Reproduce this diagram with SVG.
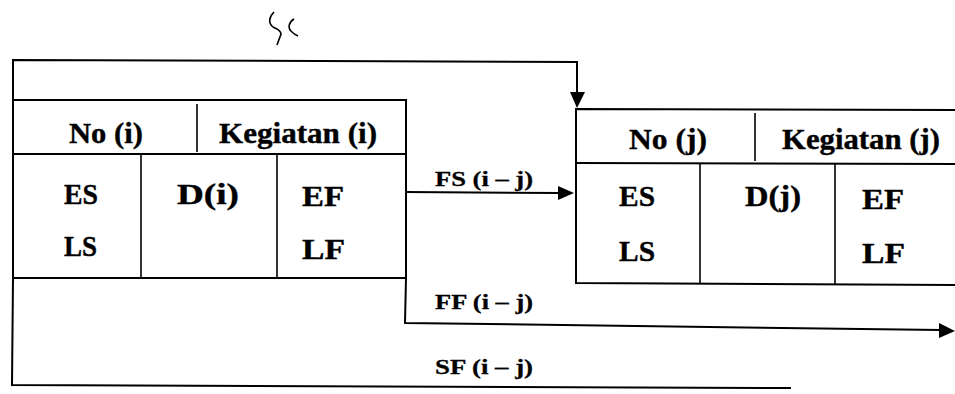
<svg xmlns="http://www.w3.org/2000/svg" width="955" height="394" viewBox="0 0 955 394">
  <defs>
    <style>
      .ln { stroke: #000; stroke-width: 2; fill: none; stroke-linecap: square; }
      .thin { stroke: #000; stroke-width: 1.6; fill: none; }
      .t { font-family: "Liberation Serif", "Times New Roman", serif; font-weight: bold; font-size: 30px; fill: #000; stroke: #000; stroke-width: 0.4; }
      .lbl { font-family: "Liberation Serif", "Times New Roman", serif; font-weight: bold; font-size: 21px; fill: #000; stroke: #000; stroke-width: 0.3; }
      .ah { fill: #000; stroke: none; }
    </style>
  </defs>
  <rect width="955" height="394" fill="#fff"/>

  <!-- handwritten mark -->
  <g id="mark">
    <path class="thin" d="M274 12 C269 17 268 23 273 27 C277 29 281 30 281 34 L277 45"/>
    <path class="thin" d="M294 19 C289 22 287 28 292 32 C294 34 296 35 298 36"/>
  </g>

  <!-- Node i -->
  <g id="node-i">
    <rect class="ln" x="13" y="100" width="393" height="178"/>
    <line class="ln" x1="13" y1="154" x2="406" y2="154"/>
    <line class="thin" x1="197" y1="104" x2="197" y2="152"/>
    <line class="thin" x1="141" y1="154" x2="141" y2="278"/>
    <line class="thin" x1="277" y1="154" x2="277" y2="278"/>
    <text class="t" x="69" y="143" textLength="74" lengthAdjust="spacingAndGlyphs">No (i)</text>
    <text class="t" x="219" y="143" textLength="158" lengthAdjust="spacingAndGlyphs">Kegiatan (i)</text>
    <text class="t" x="64" y="204" textLength="34" lengthAdjust="spacingAndGlyphs">ES</text>
    <text class="t" x="64" y="256" textLength="33" lengthAdjust="spacingAndGlyphs">LS</text>
    <text class="t" x="177" y="204" textLength="62" lengthAdjust="spacingAndGlyphs">D(i)</text>
    <text class="t" x="302" y="206" textLength="42" lengthAdjust="spacingAndGlyphs">EF</text>
    <text class="t" x="302" y="259" textLength="43" lengthAdjust="spacingAndGlyphs">LF</text>
  </g>

  <!-- Node j -->
  <g id="node-j">
    <polyline class="ln" points="960,110 576,109 576,283 960,285"/>
    <line class="ln" x1="576" y1="163" x2="960" y2="164"/>
    <line class="thin" x1="755" y1="113" x2="755" y2="161"/>
    <line class="thin" x1="700" y1="163" x2="700" y2="283"/>
    <line class="thin" x1="835" y1="164" x2="835" y2="284"/>
    <text class="t" x="629" y="149" textLength="78" lengthAdjust="spacingAndGlyphs">No (j)</text>
    <text class="t" x="782" y="149" textLength="158" lengthAdjust="spacingAndGlyphs">Kegiatan (j)</text>
    <text class="t" x="619" y="206" textLength="36" lengthAdjust="spacingAndGlyphs">ES</text>
    <text class="t" x="619" y="261" textLength="36" lengthAdjust="spacingAndGlyphs">LS</text>
    <text class="t" x="745" y="206" textLength="56" lengthAdjust="spacingAndGlyphs">D(j)</text>
    <text class="t" x="862" y="209" textLength="42" lengthAdjust="spacingAndGlyphs">EF</text>
    <text class="t" x="862" y="263" textLength="43" lengthAdjust="spacingAndGlyphs">LF</text>
  </g>

  <!-- Connectors -->
  <g id="connectors">
    <!-- SS -->
    <polyline class="ln" points="13,100 13,60 577,62 577,94"/>
    <polygon class="ah" points="570,92 585,92 577,108"/>
    <!-- FS -->
    <line class="ln" x1="406" y1="192" x2="560" y2="193"/>
    <polygon class="ah" points="558,186 574,193 558,200"/>
    <text class="lbl" x="435" y="186" textLength="98" lengthAdjust="spacingAndGlyphs">FS (i – j)</text>
    <!-- FF -->
    <polyline class="ln" points="406,278 405,323 940,330"/>
    <polygon class="ah" points="939,323 955,331 939,338"/>
    <text class="lbl" x="435" y="309" textLength="98" lengthAdjust="spacingAndGlyphs">FF (i – j)</text>
    <!-- SF -->
    <polyline class="ln" points="13,278 12,385 790,388"/>
    <text class="lbl" x="435" y="374" textLength="98" lengthAdjust="spacingAndGlyphs">SF (i – j)</text>
  </g>
</svg>
